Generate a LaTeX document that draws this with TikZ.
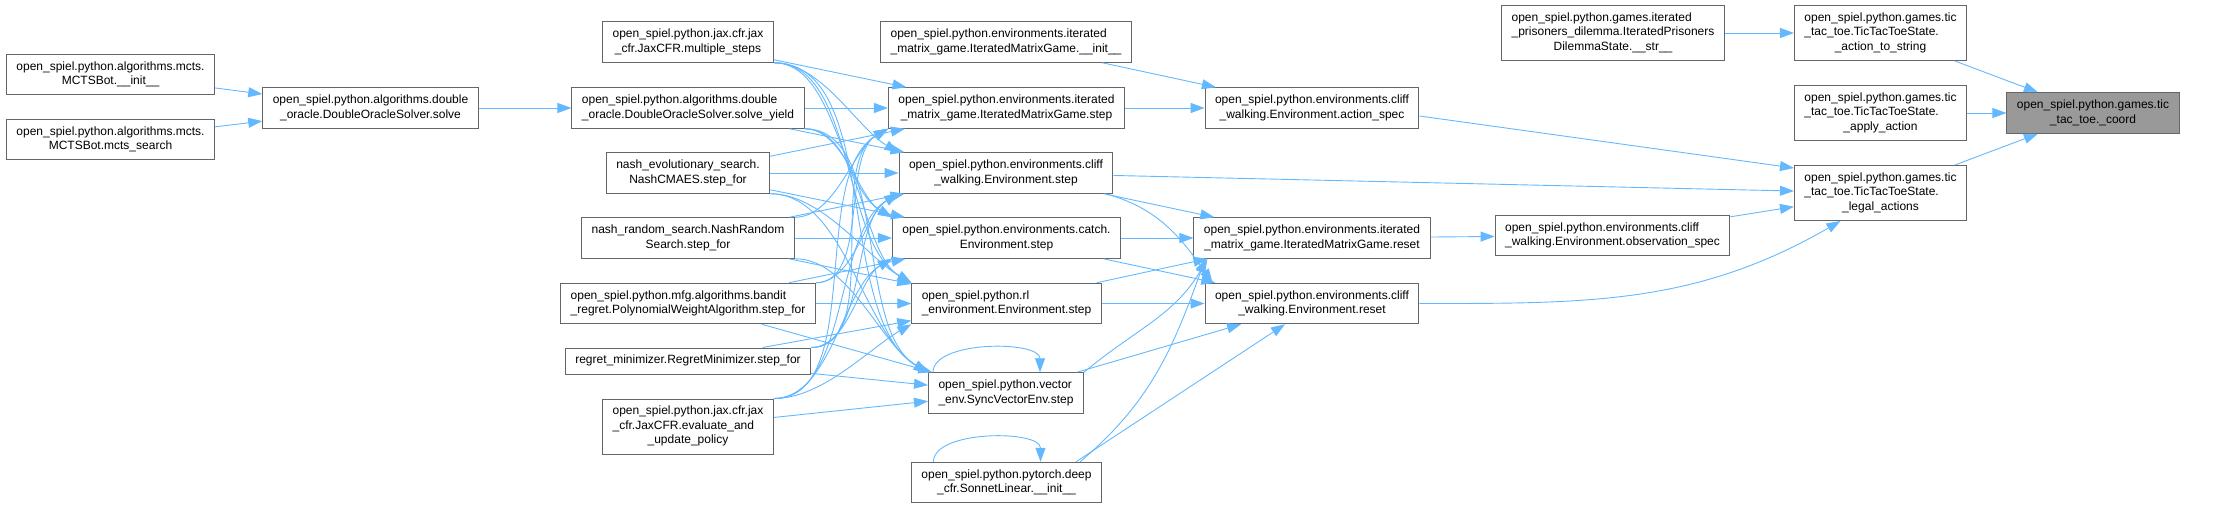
\documentclass[tikz,border=0pt]{standalone}
\usepackage{fontspec}
\setmainfont{Liberation Sans}
\usetikzlibrary{arrows.meta,positioning}
\definecolor{edgeblue}{HTML}{63B8FF}
\definecolor{boxgray}{HTML}{666666}
\definecolor{nodegray}{HTML}{999999}
% left lines, last line centred (as dot prints them)
\newcommand{\doxlabel}[2]{\begin{tabular}{@{}l@{}}#1\\\multicolumn{1}{@{}c@{}}{#2}\end{tabular}}

\begin{document}
\begin{tikzpicture}[x=1pt,y=-1pt,
    fnbox/.style={rectangle,draw=boxgray,fill=white,line width=1pt,inner xsep=10pt,inner ysep=5.75pt,font=\fontsize{12}{14.5}\selectfont},
    calls/.style={draw=edgeblue,line width=0.9pt,-{Triangle[length=14pt,width=10pt,fill=edgeblue]}}]
    \useasboundingbox (0,0) rectangle (2238,508);

    % Callers of the solver
    \node[fnbox] (mctsinit) at (110.5,74.5) {\doxlabel{open\_spiel.python.algorithms.mcts.}{MCTSBot.\_\_init\_\_}};
    \node[fnbox] (mctssearch) at (110.5,139.5) {\doxlabel{open\_spiel.python.algorithms.mcts.}{MCTSBot.mcts\_search}};
    \node[fnbox] (dosolve) at (370.5,108) {\doxlabel{open\_spiel.python.algorithms.double}{\_oracle.DoubleOracleSolver.solve}};

    % Step callers
    \node[fnbox] (multsteps) at (688,42) {\doxlabel{open\_spiel.python.jax.cfr.jax}{\_cfr.JaxCFR.multiple\_steps}};
    \node[fnbox] (solveyield) at (688,108) {\doxlabel{open\_spiel.python.algorithms.double}{\_oracle.DoubleOracleSolver.solve\_yield}};
    \node[fnbox] (nashevo) at (688,173) {\doxlabel{nash\_evolutionary\_search.}{NashCMAES.step\_for}};
    \node[fnbox] (nashrand) at (688,238) {\doxlabel{nash\_random\_search.NashRandom}{Search.step\_for}};
    \node[fnbox] (polyweight) at (688,303.5) {\doxlabel{open\_spiel.python.mfg.algorithms.bandit}{\_regret.PolynomialWeightAlgorithm.step\_for}};
    \node[fnbox] (regretmin) at (688,361) {\strut regret\_minimizer.RegretMinimizer.step\_for};
    \node[fnbox] (evaluate) at (688,426.5) {\doxlabel{open\_spiel.python.jax.cfr.jax\\\_cfr.JaxCFR.evaluate\_and}{\_update\_policy}};

    % Environment steps
    \node[fnbox] (imginit) at (1006,42) {\doxlabel{open\_spiel.python.environments.iterated}{\_matrix\_game.IteratedMatrixGame.\_\_init\_\_}};
    \node[fnbox] (imgstep) at (1006.5,108) {\doxlabel{open\_spiel.python.environments.iterated}{\_matrix\_game.IteratedMatrixGame.step}};
    \node[fnbox] (cliffstep) at (1006,173) {\doxlabel{open\_spiel.python.environments.cliff}{\_walking.Environment.step}};
    \node[fnbox] (catchstep) at (1006.5,238) {\doxlabel{open\_spiel.python.environments.catch.}{Environment.step}};
    \node[fnbox] (rlstep) at (1006.5,303.5) {\doxlabel{open\_spiel.python.rl}{\_environment.Environment.step}};
    \node[fnbox] (syncstep) at (1006,393) {\doxlabel{open\_spiel.python.vector}{\_env.SyncVectorEnv.step}};
    \node[fnbox] (sonnet) at (1006.5,482.5) {\doxlabel{open\_spiel.python.pytorch.deep}{\_cfr.SonnetLinear.\_\_init\_\_}};

    % Specs and resets
    \node[fnbox] (actionspec) at (1312,108) {\doxlabel{open\_spiel.python.environments.cliff}{\_walking.Environment.action\_spec}};
    \node[fnbox] (imreset) at (1312,238) {\doxlabel{open\_spiel.python.environments.iterated}{\_matrix\_game.IteratedMatrixGame.reset}};
    \node[fnbox] (cliffreset) at (1312,303.5) {\doxlabel{open\_spiel.python.environments.cliff}{\_walking.Environment.reset}};
    \node[fnbox] (obsspec) at (1612.5,235.5) {\doxlabel{open\_spiel.python.environments.cliff}{\_walking.Environment.observation\_spec}};
    \node[fnbox] (ipdstr) at (1613,33) {\doxlabel{open\_spiel.python.games.iterated\\\_prisoners\_dilemma.IteratedPrisoners}{DilemmaState.\_\_str\_\_}};

    % Tic tac toe
    \node[fnbox] (actiontostr) at (1880.5,33) {\doxlabel{open\_spiel.python.games.tic\\\_tac\_toe.TicTacToeState.}{\_action\_to\_string}};
    \node[fnbox] (applyaction) at (1880.5,113) {\doxlabel{open\_spiel.python.games.tic\\\_tac\_toe.TicTacToeState.}{\_apply\_action}};
    \node[fnbox] (legalactions) at (1880.5,193) {\doxlabel{open\_spiel.python.games.tic\\\_tac\_toe.TicTacToeState.}{\_legal\_actions}};
    \node[fnbox,fill=nodegray] (coord) at (2093,113) {\doxlabel{open\_spiel.python.games.tic}{\_tac\_toe.\_coord}};

    % Solver chain
    \draw[calls] (mctsinit) -- (dosolve);
    \draw[calls] (mctssearch) -- (dosolve);
    \draw[calls] (dosolve) -- (solveyield);

    % Step calls, near ranks
    \foreach \a/\b in {multsteps/imgstep,solveyield/imgstep,solveyield/cliffstep,nashevo/imgstep,nashevo/cliffstep,nashevo/catchstep,nashrand/cliffstep,nashrand/catchstep,nashrand/rlstep,polyweight/catchstep,polyweight/rlstep,polyweight/syncstep,regretmin/rlstep,regretmin/syncstep,evaluate/syncstep} {
        \draw[calls] (\a) -- (\b);
    }

    % Step calls going down
    \foreach \a/\b in {multsteps/cliffstep,multsteps/catchstep,multsteps/rlstep,multsteps/syncstep,solveyield/catchstep,solveyield/rlstep,solveyield/syncstep,nashevo/rlstep,nashevo/syncstep,nashrand/syncstep} {
        \draw[calls] (\a.south east) to[out=0,in=150,looseness=0.8] (\b.north west);
    }

    % Step calls going up
    \foreach \a/\b in {nashrand/imgstep,polyweight/imgstep,polyweight/cliffstep,regretmin/imgstep,regretmin/cliffstep,regretmin/catchstep,evaluate/imgstep,evaluate/cliffstep,evaluate/catchstep,evaluate/rlstep} {
        \draw[calls] (\a.north east) to[out=0,in=210,looseness=0.8] (\b.south west);
    }

    % Environment calls
    \draw[calls] (imginit) -- (actionspec);
    \draw[calls] (imgstep) -- (actionspec);
    \draw[calls] (cliffstep) -- (imreset);
    \draw[calls] ([xshift=-8pt]cliffstep.south east) to[out=-15,in=125] ([xshift=8pt]cliffreset.north west);
    \draw[calls] (cliffstep) -- (legalactions);
    \draw[calls] (catchstep) -- (imreset);
    \draw[calls] (catchstep) -- (cliffreset);
    \draw[calls] ([xshift=-5pt]rlstep.north east) -- ([xshift=14pt]imreset.south west);
    \draw[calls] (rlstep) -- (cliffreset);
    \draw[calls] (syncstep.north east) to[out=40,in=240] ([xshift=14pt]imreset.south west);
    \draw[calls] (syncstep) -- (cliffreset);
    \draw[calls] ([xshift=-22pt]sonnet.north east) to[out=40,in=250] ([xshift=12pt]imreset.south west);
    \draw[calls] ([xshift=-26pt]sonnet.north east) -- ([xshift=-27pt]cliffreset.south);

    % Self calls
    \draw[calls] ([xshift=-73pt]syncstep.north) .. controls +(0,-32) and +(0,-32) .. ([xshift=34pt]syncstep.north);
    \draw[calls] ([xshift=-73pt]sonnet.north) .. controls +(0,-32) and +(0,-32) .. ([xshift=34pt]sonnet.north);

    % Into legal actions and coord
    \draw[calls] (imreset) -- (obsspec);
    \draw[calls] (obsspec) -- (legalactions);
    \draw[calls] (cliffreset.east) to[out=0,in=210] ([xshift=-40pt]legalactions.south);
    \draw[calls] ([yshift=-8pt]actionspec.east) -- ([yshift=-3pt]legalactions.north west);
    \draw[calls] (ipdstr) -- (actiontostr);
    \draw[calls] (actiontostr) -- (coord);
    \draw[calls] (applyaction) -- (coord);
    \draw[calls] (legalactions) -- (coord);
\end{tikzpicture}
\end{document}
